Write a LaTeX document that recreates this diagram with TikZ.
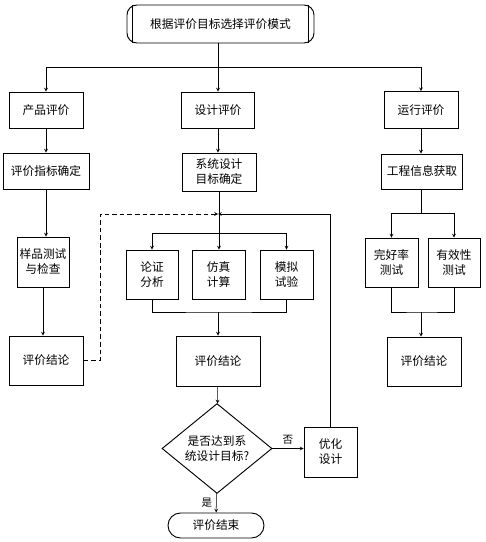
\documentclass[tikz,border=0pt]{standalone}
\usepackage{fontspec}
\setmainfont{Noto Sans CJK SC}
\usetikzlibrary{shapes.geometric}

\begin{document}
\begin{tikzpicture}[x=0.03cm, y=-0.03cm, >=stealth,
    box/.style={draw, line width=0.8pt, align=center, inner sep=0pt,
      font=\fontsize{10pt}{12.8pt}\selectfont},
    link/.style={line width=0.45pt}]
      \useasboundingbox (0,0) rectangle (486,542);
      \node [box, rounded corners=0.3cm, minimum width=5.61cm, minimum height=1.14cm] (mode) at (220.5,24) {根据评价目标选择评价模式};
      \draw [line width=0.5pt] ([xshift=0.18cm]mode.north west) -- ([xshift=0.18cm]mode.south west);
      \draw [line width=0.5pt] ([xshift=-0.18cm]mode.north east) -- ([xshift=-0.18cm]mode.south east);
      \node [box, minimum width=2.22cm, minimum height=1.08cm] (prod) at (46,110) {产品评价};
      \node [box, minimum width=2.19cm, minimum height=1.08cm] (des) at (218,110) {设计评价};
      \node [box, minimum width=2.22cm, minimum height=1.1cm] (run) at (421,110) {运行评价};
      \node [box, minimum width=2.58cm, minimum height=1.08cm] (index) at (46,171) {评价指标确定};
      \node [box, minimum width=2.22cm, minimum height=1.14cm] (goal) at (219,172) {系统设计\\目标确定};
      \node [box, minimum width=2.43cm, minimum height=1.05cm] (info) at (422,171.5) {工程信息获取};
      \node [box, minimum width=1.56cm, minimum height=1.5cm] (sample) at (43,262) {样品测试\\与检查};
      \node [box, minimum width=2.22cm, minimum height=1.47cm] (concl1) at (46,360.5) {评价结论};
      \node [box, minimum width=1.56cm, minimum height=1.47cm] (proof) at (152,274.5) {论证\\分析};
      \node [box, minimum width=1.59cm, minimum height=1.47cm] (sim) at (218.5,274.5) {仿真\\计算};
      \node [box, minimum width=1.59cm, minimum height=1.47cm] (test) at (286.5,274.5) {模拟\\试验};
      \node [box, minimum width=2.52cm, minimum height=1.5cm] (concl2) at (218,361) {评价结论};
      \node [box, minimum width=1.59cm, minimum height=1.47cm] (good) at (391.5,262.5) {完好率\\测试};
      \node [box, minimum width=1.56cm, minimum height=1.47cm] (eff) at (454,262.5) {有效性\\测试};
      \node [box, minimum width=2.22cm, minimum height=1.47cm] (concl3) at (424,361.5) {评价结论};
      \node [box, diamond, minimum width=3.3cm, minimum height=2.37cm] (check) at (217,448.5) {是否达到系\\统设计目标?};
      \node [box, minimum width=1.59cm, minimum height=1.5cm] (opt) at (330.5,452) {优化\\设计};
      \node [box, rounded corners=0.375cm, minimum width=2.88cm, minimum height=0.75cm] (stop) at (216,525.5) {评价结束};
      \coordinate (split) at (218,67);
      \coordinate (back) at (218,214);
      \coordinate (dashcorner) at (100,214);
      \coordinate (dsplit) at (218,233);
      \coordinate (djoin) at (218,312);
      \coordinate (rsplit) at (421,213);
      \coordinate (rjoin) at (421,312);
      \draw [link] (split |- mode.south) -- (split);
      \draw [link, ->] (split) -| (prod.north);
      \draw [link, ->] (split) -| (run.north);
      \draw [link, ->] (split) -- (des);
      \draw [link, ->] (prod) -- (index);
      \draw [link, ->] (index.south) -- (index.south |- sample.north);
      \draw [link, ->] (sample.south) -- (sample.south |- concl1.north);
      \draw [link, ->] (des) -- (goal.north -| des);
      \draw [link, ->] (goal.south) -- (goal.south |- sim.north);
      \draw [link, ->] (dsplit) -| (proof.north);
      \draw [link, ->] (dsplit) -| (test.north);
      \draw [link] (proof.south) |- (djoin) -| (test.south);
      \draw [link, ->] (djoin) -- (concl2.north -| djoin);
      \draw [link, dash pattern=on 4pt off 2.5pt, ->] (concl1.east) -| (dashcorner) -- (back);
      \draw [link, ->] (opt.north) |- (back);
      \draw [link, ->] (concl2) -- (check);
      \draw [link, ->] (check) -- node [above, font=\small] {否} (check -| opt.west);
      \draw [link, ->] (check) -- node [left, font=\small] {是} (stop);
      \draw [link, ->] (run) -- (info.north -| run);
      \draw [link] (info.south -| rsplit) -- (rsplit);
      \draw [link, ->] (rsplit) -| (good.north);
      \draw [link, ->] (rsplit) -| (eff.north);
      \draw [link] (good.south) |- (rjoin) -| (eff.south);
      \draw [link, ->] (rjoin) -- (concl3.north -| rjoin);
    \end{tikzpicture}
\end{document}
